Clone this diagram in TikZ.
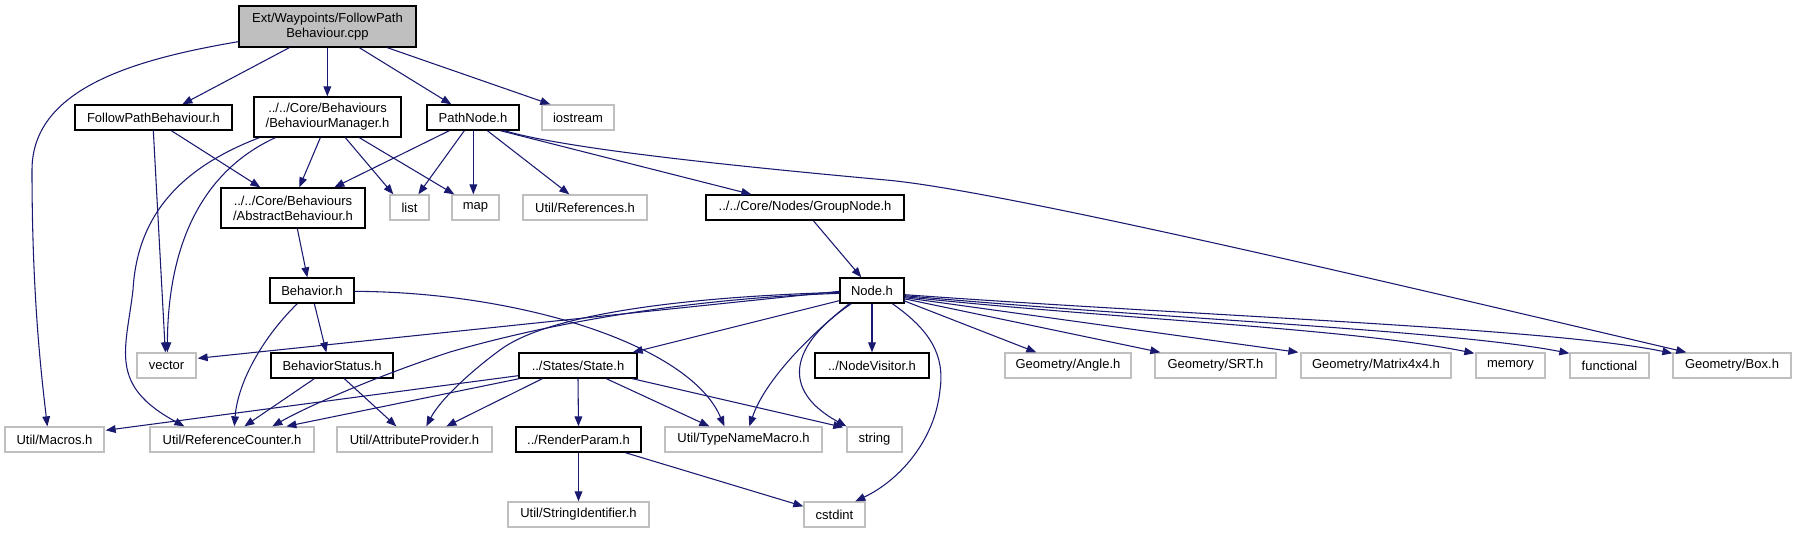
\documentclass[tikz,border=0pt]{standalone}
\usepackage{fontspec}
\setmainfont{Liberation Sans}
\usetikzlibrary{calc,arrows.meta}
\definecolor{edgec}{RGB}{25,25,112}
\definecolor{extc}{RGB}{191,191,191}
\begin{document}
\begin{tikzpicture}[x=0.75pt,y=-0.75pt,
  box/.style={draw=black,line width=1pt,inner sep=0pt,align=center,font=\fontsize{9.75}{11.25}\selectfont},
  ext/.style={box,draw=extc},
  sz/.style 2 args={minimum width={#1*0.75pt},minimum height={#2*0.75pt}},
  dep/.style={draw=edgec,line width=0.8pt,-{Triangle[length=7.5pt,width=5.8pt]}}]
\useasboundingbox (0,0) rectangle (1796,533);
% nodes
\node[box,fill=extc,sz={177}{41}] (top) at (327.5,26.5) {Ext/Waypoints/FollowPath\\Behaviour.cpp};
\node[box,sz={157}{25}] (fpb) at (153.5,117.5) {FollowPathBehaviour.h};
\node[box,sz={147}{40}] (bm) at (327.5,117) {../../Core/Behaviours\\/BehaviourManager.h};
\node[box,sz={92}{25}] (pn) at (473,117.5) {PathNode.h};
\node[ext,sz={72}{25}] (ios) at (578,117.5) {iostream};
\node[box,sz={144}{40}] (ab) at (293,208) {../../Core/Behaviours\\/AbstractBehaviour.h};
\node[ext,sz={39}{25}] (list) at (409.5,207.5) {list};
\node[ext,sz={47}{25}] (map) at (475.5,207.5) {map};
\node[ext,sz={124}{25}] (refs) at (585,207.5) {Util/References.h};
\node[box,sz={198}{25}] (gn) at (805,207.5) {../../Core/Nodes/GroupNode.h};
\node[box,sz={84}{25}] (beh) at (312,290.5) {Behavior.h};
\node[box,sz={64}{25}] (nd) at (872,290.5) {Node.h};
\node[ext,sz={59}{25}] (vec) at (166.5,365.5) {vector};
\node[box,sz={122}{25}] (bs) at (332,365.5) {BehaviorStatus.h};
\node[box,sz={118}{25}] (st) at (578,365.5) {../States/State.h};
\node[box,sz={114}{25}] (nv) at (872,365.5) {../NodeVisitor.h};
\node[ext,sz={126}{25}] (ang) at (1068,365.5) {Geometry/Angle.h};
\node[ext,sz={121}{25}] (srt) at (1215.5,365.5) {Geometry/SRT.h};
\node[ext,sz={150}{25}] (mat) at (1376,365.5) {Geometry/Matrix4x4.h};
\node[ext,sz={69}{25}] (mem) at (1510.5,365.5) {memory};
\node[ext,sz={79}{25}] (func) at (1609.5,365.5) {functional};
\node[ext,sz={118}{25}] (gbox) at (1732,365.5) {Geometry/Box.h};
\node[ext,sz={99}{25}] (mac) at (54.5,439.5) {Util/Macros.h};
\node[ext,sz={164}{25}] (rc) at (232,439.5) {Util/ReferenceCounter.h};
\node[ext,sz={155}{25}] (ap) at (414.5,439.5) {Util/AttributeProvider.h};
\node[box,sz={125}{25}] (rp) at (578.5,439.5) {../RenderParam.h};
\node[ext,sz={157}{25}] (tnm) at (743.5,439.5) {Util/TypeNameMacro.h};
\node[ext,sz={55}{25}] (str) at (874.5,439.5) {string};
\node[ext,sz={141}{25}] (sid) at (578.5,514.5) {Util/StringIdentifier.h};
\node[ext,sz={61}{25}] (cst) at (834.5,514.5) {cstdint};
% edges from top
\draw[dep] ($(top.south west)+(0,-6)$) .. controls (130,60) and (32,90) .. (32,170) .. controls (32,300) and (42,380) .. ($(mac.north west)+(43,0)$);
\draw[dep] ($(top.south west)+(51,0)$) -- ($(fpb.north west)+(108,0)$);
\draw[dep] ($(top.south west)+(89,0)$) -- ($(bm.north west)+(74,0)$);
\draw[dep] ($(top.south west)+(121,0)$) -- ($(pn.north west)+(25,0)$);
\draw[dep] ($(top.south west)+(149,0)$) -- ($(ios.north west)+(9,0)$);
% FollowPathBehaviour.h
\draw[dep] ($(fpb.south west)+(97,0)$) -- ($(ab.north west)+(40,0)$);
\draw[dep] ($(fpb.south west)+(79,0)$) -- ($(vec.north west)+(29,0)$);
% BehaviourManager.h
\draw[dep] ($(bm.south west)+(67,0)$) -- ($(ab.north west)+(79,0)$);
\draw[dep] ($(bm.south west)+(92,0)$) -- ($(list.north west)+(4,0)$);
\draw[dep] ($(bm.south west)+(106,0)$) -- ($(map.north west)+(3,0)$);
\draw[dep] ($(bm.south west)+(22,0)$) .. controls (205,170) and (168,240) .. ($(vec.north west)+(31,0)$);
\draw[dep] ($(bm.south west)+(6,0)$) .. controls (175,170) and (137,220) .. (133,290) .. controls (126,350) and (108,385) .. ($(rc.north west)+(35,0)$);
% PathNode.h
\draw[dep] ($(pn.south west)+(23,0)$) -- ($(ab.north west)+(114,0)$);
\draw[dep] ($(pn.south west)+(38,0)$) -- ($(list.north west)+(29,0)$);
\draw[dep] ($(pn.south west)+(47,0)$) -- ($(map.north west)+(22,0)$);
\draw[dep] ($(pn.south west)+(61,0)$) -- ($(refs.north west)+(47,0)$);
\draw[dep] ($(pn.south west)+(74,0)$) -- ($(gn.north west)+(46,0)$);
\draw[dep] ($(pn.south west)+(78,0)$) .. controls (560,147) and (700,163) .. (886,180) .. controls (1000,190) and (1400,285) .. ($(gbox.north west)+(14,0)$);
% AbstractBehaviour / GroupNode
\draw[dep] ($(ab.south west)+(77,0)$) -- ($(beh.north west)+(38,0)$);
\draw[dep] ($(gn.south west)+(108,0)$) -- ($(nd.north west)+(22,0)$);
% Behavior.h
\draw[dep] ($(beh.south west)+(45,0)$) -- ($(bs.north west)+(56,0)$);
\draw[dep] ($(beh.south west)+(28,0)$) .. controls (265,335) and (238,380) .. ($(rc.north west)+(85,0)$);
\draw[dep] ($(beh.north east)+(0,14)$) .. controls (520,292) and (690,345) .. ($(tnm.north west)+(60,0)$);
% BehaviorStatus.h
\draw[dep] ($(bs.south west)+(44,0)$) -- ($(rc.north west)+(95,0)$);
\draw[dep] ($(bs.south west)+(74,0)$) -- ($(ap.north west)+(60,0)$);
% State.h
\draw[dep] ($(st.south west)+(0,-3)$) -- ($(mac.north east)+(1,4)$);
\draw[dep] ($(st.south west)+(1,0)$) -- ($(rc.north west)+(137,0)$);
\draw[dep] ($(st.south west)+(24,0)$) -- ($(ap.north west)+(110,0)$);
\draw[dep] (st.south) -- (rp.north);
\draw[dep] ($(st.south west)+(88,0)$) -- ($(tnm.north west)+(45,0)$);
\draw[dep] ($(st.south west)+(114,0)$) -- ($(str.north west)+(-3,1)$);
% RenderParam.h
\draw[dep] (rp.south) -- (sid.north);
\draw[dep] ($(rp.south west)+(110,0)$) -- ($(cst.north west)+(0,5)$);
% Node.h
\draw[dep] ($(nd.north west)+(0,14)$) -- ($(vec.north east)+(1,6)$);
\draw[dep] ($(nd.north west)+(0,16)$) .. controls (700,298) and (560,320) .. (450,352) .. controls (380,375) and (310,405) .. ($(rc.north west)+(123,0)$);
\draw[dep] ($(nd.north west)+(0,15)$) .. controls (650,298) and (540,320) .. (500,350) .. controls (470,372) and (440,400) .. ($(ap.north west)+(90,0)$);
\draw[dep] ($(nd.south west)+(0,-3)$) -- ($(st.north east)+(-5,0)$);
\draw[dep] ($(nd.south west)+(10,0)$) .. controls (810,335) and (765,380) .. ($(tnm.north west)+(85,0)$);
\draw[dep] ($(nd.south west)+(12,0)$) .. controls (790,345) and (780,390) .. ($(str.north west)+(0,0)$);
\draw[dep] (nd.south) -- (nv.north);
\draw[dep] ($(nd.south west)+(53,0)$) .. controls (930,330) and (945,355) .. (940,390) .. controls (935,440) and (900,480) .. ($(cst.north west)+(52,0)$);
\draw[dep] ($(nd.south east)+(-1,-3)$) -- ($(ang.north west)+(32,0)$);
\draw[dep] ($(nd.south east)+(-1,-5)$) -- ($(srt.north west)+(6,0)$);
\draw[dep] ($(nd.south east)+(0,-6)$) -- ($(mat.north west)+(-2,0)$);
\draw[dep] ($(nd.south east)+(0,-7)$) .. controls (1100,318) and (1350,328) .. ($(mem.north west)+(-1,1)$);
\draw[dep] ($(nd.south east)+(0,-8)$) .. controls (1150,318) and (1450,330) .. ($(func.north west)+(0,1)$);
\draw[dep] ($(nd.south east)+(0,-9)$) .. controls (1200,316) and (1550,328) .. ($(gbox.north west)+(0,1)$);
\end{tikzpicture}
\end{document}
